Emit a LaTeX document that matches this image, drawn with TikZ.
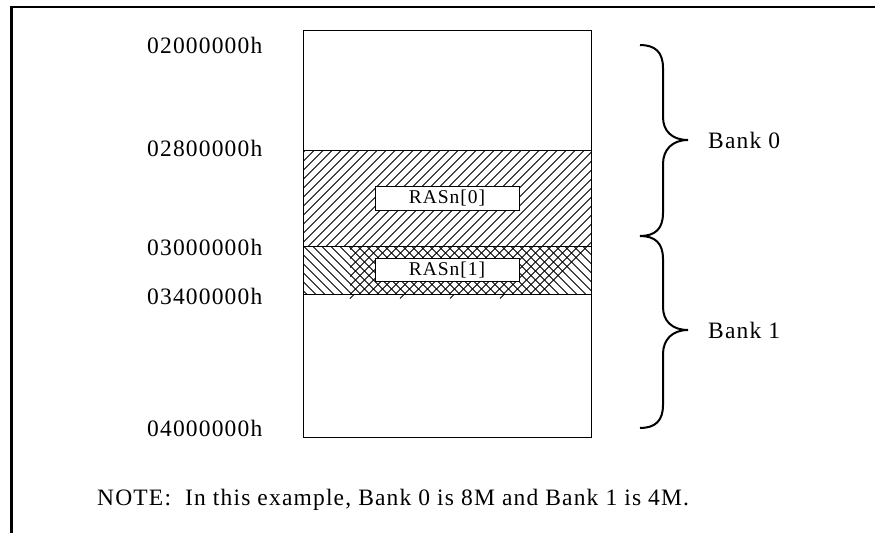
\documentclass[tikz,border=0pt]{standalone}
\usepackage{fontspec}
\setmainfont{Liberation Serif}[LetterSpace=5]
\begin{document}
\begin{tikzpicture}[x=1pt,y=-1pt,
  lbl/.style={font=\fontsize{23.5}{26}\selectfont, inner sep=0pt},
  rasbox/.style={draw, fill=white, line width=0.9pt, minimum width=144pt, minimum height=23.5pt, inner sep=0pt, font=\fontsize{19.5}{22}\selectfont},
  hatchline/.style={line width=0.8pt},
  bandline/.style={line width=1pt},
  bracepath/.style={line width=2pt},
  framepath/.style={line width=2.2pt}]
\useasboundingbox (0,0) rectangle (875,533);
% outer frame
\coordinate (fbl) at (11.5,533);
\coordinate (ftl) at (11.5,7);
\coordinate (ftr) at (875,7);
\draw[framepath] (fbl) -- (ftl) -- (ftr);
% hatch: // in upper band and partly in lower band
\begin{scope}
  \clip (303,150.5) rectangle (591,246.5)
        (350,246.5) -- (591,246.5) -- (591,250) -- (547,294.5) -- (350,294.5) -- cycle;
  \foreach \x in {200,209,...,650} \draw[hatchline] (\x-48,294.5) -- (\x+96,150.5);
\end{scope}
% hatch: \\ in lower band
\begin{scope}
  \clip (303,246.5) rectangle (591,294.5);
  \foreach \x in {250,259,...,600} \draw[hatchline] (\x,246.5) -- ++(48,48);
\end{scope}
% small stubs of the // hatch below the lower band
\foreach \x in {354,404,454,504} \draw[hatchline] (\x,294.5) -- ++(-4,4);
% band boundaries
\draw[bandline] (303,150.5) -- (591,150.5);
\draw[bandline] (303,246.5) -- (591,246.5);
\draw[bandline] (303,294.5) -- (591,294.5);
% memory rectangle
\node[draw, line width=1pt, minimum width=288pt, minimum height=407pt, inner sep=0pt] (mem) at (447,234) {};
% RAS boxes
\node[rasbox] (ras0) at (447,198.3) {RASn[0]};
\node[rasbox] (ras1) at (447,270) {RASn[1]};
% address labels
\node[lbl, anchor=west] (a0) at (147,45) {02000000h};
\node[lbl, anchor=west] (a1) at (147,148.5) {02800000h};
\node[lbl, anchor=west] (a2) at (147,247) {03000000h};
\node[lbl, anchor=west] (a3) at (147,296) {03400000h};
\node[lbl, anchor=west] (a4) at (147,428) {04000000h};
% braces
\draw[bracepath] (640,45) .. controls (655,45) and (663,52) .. (663,68) -- (663,117)
  .. controls (663,131) and (672,140) .. (688,140)
  .. controls (672,140) and (663,150) .. (663,164) -- (663,213)
  .. controls (663,229) and (655,236) .. (640,236);
\draw[bracepath] (640,236) .. controls (655,236) and (663,243) .. (663,259) -- (663,307)
  .. controls (663,321) and (672,330) .. (688,330)
  .. controls (672,330) and (663,340) .. (663,354) -- (663,405)
  .. controls (663,421) and (655,428) .. (640,428);
\node[lbl, anchor=west] (b0) at (708,140) {Bank 0};
\node[lbl, anchor=west] (b1) at (708,330) {Bank 1};
% note
\node[lbl, anchor=base west] (note) at (97,505) {NOTE:\ \ In this example, Bank 0 is 8M and Bank 1 is 4M.};
\end{tikzpicture}
\end{document}
